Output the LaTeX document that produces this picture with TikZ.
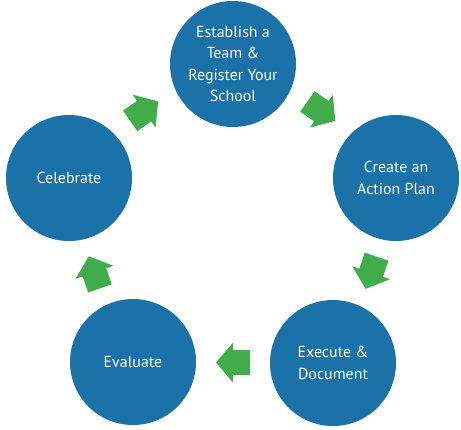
\documentclass[tikz,border=0pt]{standalone}
\usepackage{fontspec}
\setmainfont{PT Sans}
\definecolor{circblue}{HTML}{1A72A8}
\definecolor{arrgreen}{HTML}{41AD4A}
\begin{document}
\begin{tikzpicture}[x=1bp,y=-1bp,
  stepcirc/.style={circle, fill=circblue, text=white, minimum size=126bp,
    inner sep=0pt, align=center, font=\fontsize{16}{21.5}\selectfont},
  pics/blockarrow/.style={code={
    \fill[arrgreen, yshift=#1bp] (-17,-12.5) -- (0,-12.5) -- (0,-20) -- (17,0)
      -- (0,20) -- (0,12.5) -- (-17,12.5) -- cycle;}},
  pics/blockarrow/.default=0,
  flow/.style={pos=0.5, sloped, allow upside down}]
\useasboundingbox (0,0) rectangle (461,429);
\node[stepcirc] (est) at (233,64) {Establish a\\Team \&\\Register Your\\School};
\node[stepcirc] (act) at (396,178) {Create an\\Action Plan};
\node[stepcirc] (exe) at (333,363) {Execute \&\\Document};
\node[stepcirc] (eva) at (133,362) {Evaluate};
\node[stepcirc] (cel) at (69,178) {Celebrate};
\path (est) -- pic[flow]{blockarrow=12} (act);
\path (act) -- pic[flow]{blockarrow=7} (exe);
\path (exe) -- pic[flow]{blockarrow=0} (eva);
\path (eva) -- pic[flow]{blockarrow=7} (cel);
\path (cel) -- pic[flow]{blockarrow=12} (est);
\end{tikzpicture}
\end{document}
